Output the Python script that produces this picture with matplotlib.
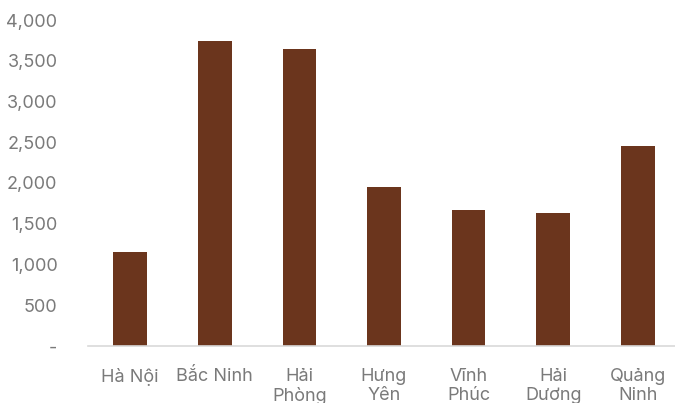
import matplotlib.pyplot as plt
from matplotlib.ticker import FuncFormatter

# data
provinces = ['Hà Nội', 'Bắc Ninh', 'Hải\nPhòng', 'Hưng\nYên', 'Vĩnh\nPhúc', 'Hải\nDương', 'Quảng\nNinh']
values = [1150, 3740, 3640, 1950, 1670, 1630, 2460]
yticks = [0, 500, 1000, 1500, 2000, 2500, 3000, 3500, 4000]

plt.rcParams['font.family'] = ['Inter', 'DejaVu Sans']

fig = plt.figure(figsize=(6.75, 4.03), dpi=100)
# right edge runs past the figure, as in the cropped reference
ax = fig.add_axes([88 / 675, 1 - 346 / 403, 592 / 675, 326 / 403])

x = range(len(provinces))
ax.bar(x, values, width=0.4, color='#6b351d')

ax.set_xlim(-0.5, len(provinces) - 0.5)
ax.set_ylim(0, 4000)
ax.set_yticks(yticks)
ax.yaxis.set_major_formatter(FuncFormatter(lambda v, p: '-' if v == 0 else f'{v:,.0f}'))
ax.set_xticks(list(x))
# second line of the labels is clipped at the bottom edge, as in the reference
ax.set_xticklabels(provinces, linespacing=1.15)

for s in ['top', 'right', 'left']:
    ax.spines[s].set_visible(False)
ax.spines['bottom'].set_color('#d9d9d9')
ax.spines['bottom'].set_linewidth(1.2)
ax.tick_params(axis='both', length=0, labelsize=13, colors='#7a7a7a')
ax.tick_params(axis='y', pad=22)
ax.tick_params(axis='x', pad=16)

fig.savefig('out.png', dpi=100)
